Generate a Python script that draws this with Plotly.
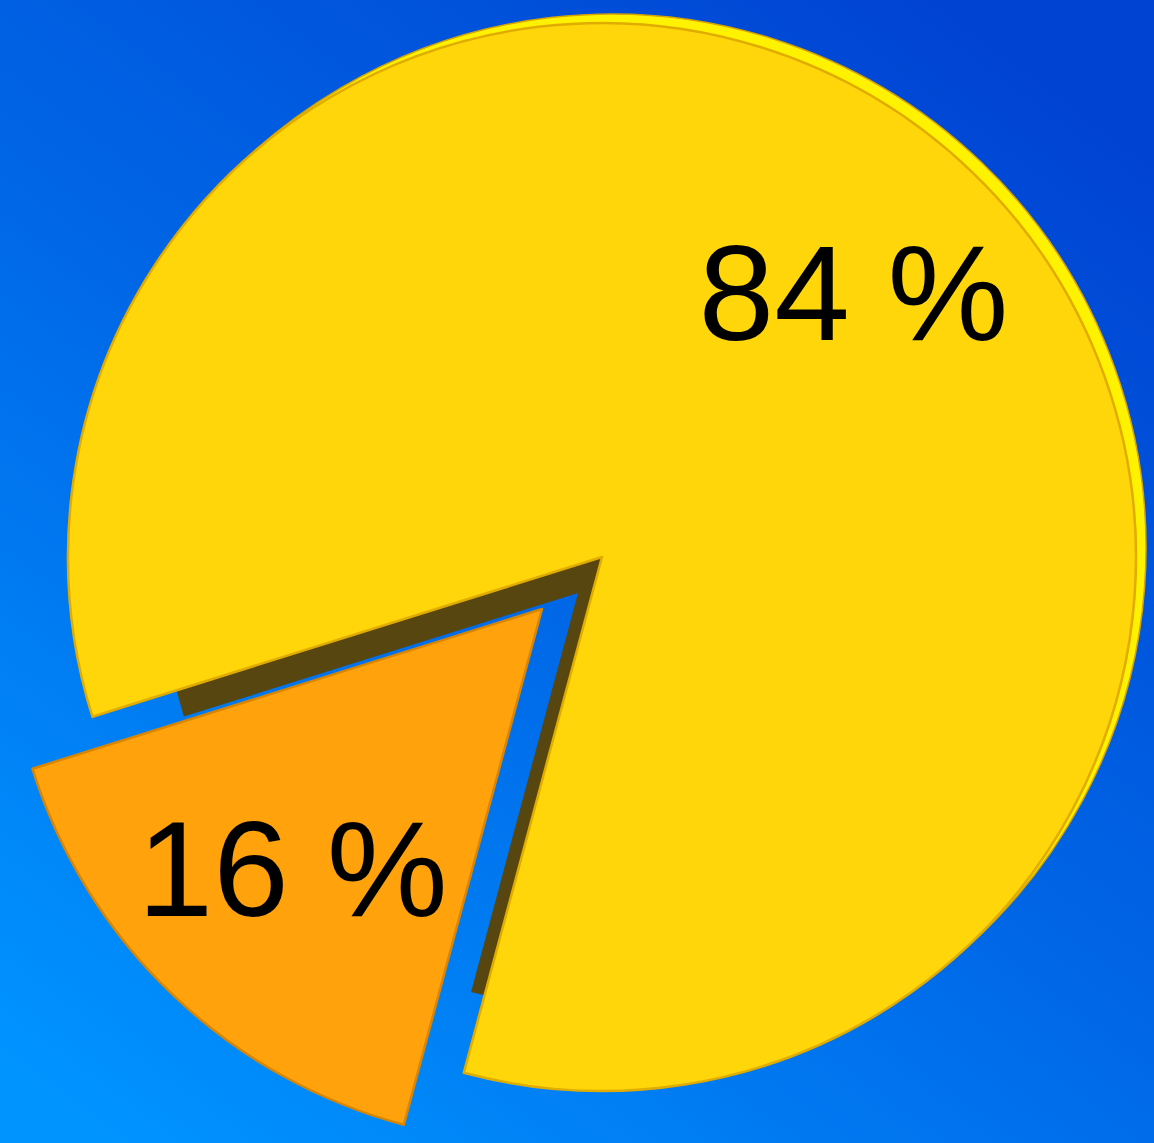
import base64
import plotly.graph_objects as go

# ---- data ----
categories = ["Share A", "Share B"]
shares = [16, 84]
slice_colors = ["#FFA20C", "#FFD60A"]
edge_colors = ["#D98500", "#E0AC00"]
rim_color = "#FFF200"
side_color = "#584610"
text_template = "%{value} %"

W, H = 1154, 1143
CLEAR = "rgba(0,0,0,0)"
FONT = dict(family="Liberation Sans, Arial, sans-serif", size=136, color="black")


def domain_px(cx, cy, r):
    """Domain box (paper units) for a pie of radius r centred at pixel (cx, cy)."""
    return dict(x=[(cx - r) / W, (cx + r) / W],
                y=[1 - (cy + r) / H, 1 - (cy - r) / H])


def pie_trace(show_idx, dom, colors, lines, line_w, with_text, hole=0):
    n = len(shares)
    cols = [colors[i] if i == show_idx else CLEAR for i in range(n)]
    lcols = [lines[i] if i == show_idx else CLEAR for i in range(n)]
    lw = [line_w if i == show_idx else 0 for i in range(n)]
    tt = [text_template if (i == show_idx and with_text) else "" for i in range(n)]
    return go.Pie(
        labels=categories, values=shares, sort=False,
        direction="clockwise", rotation=195, hole=hole,
        domain=dom,
        marker=dict(colors=cols, line=dict(color=lcols, width=lw)),
        texttemplate=tt, textposition="inside",
        insidetextorientation="horizontal",
        insidetextfont=FONT,
        hoverinfo="skip", showlegend=False,
    )


fig = go.Figure()
# dark extruded side of the big slice
fig.add_trace(pie_trace(1, domain_px(578, 593, 413), [side_color] * 2, [side_color] * 2, 0, False))
# bright rim on the upper-right of the big slice
fig.add_trace(pie_trace(1, domain_px(612, 548, 534), [rim_color] * 2, ["#D6A400"] * 2, 1.5, False))
# big yellow slice
fig.add_trace(pie_trace(1, domain_px(602, 557, 534), slice_colors, edge_colors, 2.5, False))
# pulled-out orange slice (with its label)
fig.add_trace(pie_trace(0, domain_px(542, 609, 534), slice_colors, edge_colors, 2.5, True))
# label of the big slice
fig.add_trace(pie_trace(1, domain_px(604, 553, 534), [CLEAR] * 2, [CLEAR] * 2, 0, True, hole=0.35))

svg = (
    '<svg xmlns="http://www.w3.org/2000/svg" width="1154" height="1143" '
    'viewBox="0 0 1154 1143" preserveAspectRatio="none">'
    '<defs><linearGradient id="g" x1="0.85" y1="0" x2="0.1" y2="1">'
    '<stop offset="0" stop-color="#0042D2"/>'
    '<stop offset="0.5" stop-color="#0066E6"/>'
    '<stop offset="1" stop-color="#0094FF"/>'
    '</linearGradient></defs>'
    '<rect width="1154" height="1143" fill="url(#g)"/></svg>'
)
src = "data:image/svg+xml;base64," + base64.b64encode(svg.encode()).decode()

fig.update_layout(
    width=W, height=H,
    margin=dict(l=0, r=0, t=0, b=0),
    paper_bgcolor="#0070E8",
    images=[dict(source=src, xref="paper", yref="paper", x=0, y=1,
                 sizex=1, sizey=1, sizing="stretch", layer="below",
                 xanchor="left", yanchor="top")],
)

fig.write_html(
    "out.html",
    config={"displayModeBar": False},
    post_script="document.body.style.margin='0';document.body.style.overflow='hidden';",
)
